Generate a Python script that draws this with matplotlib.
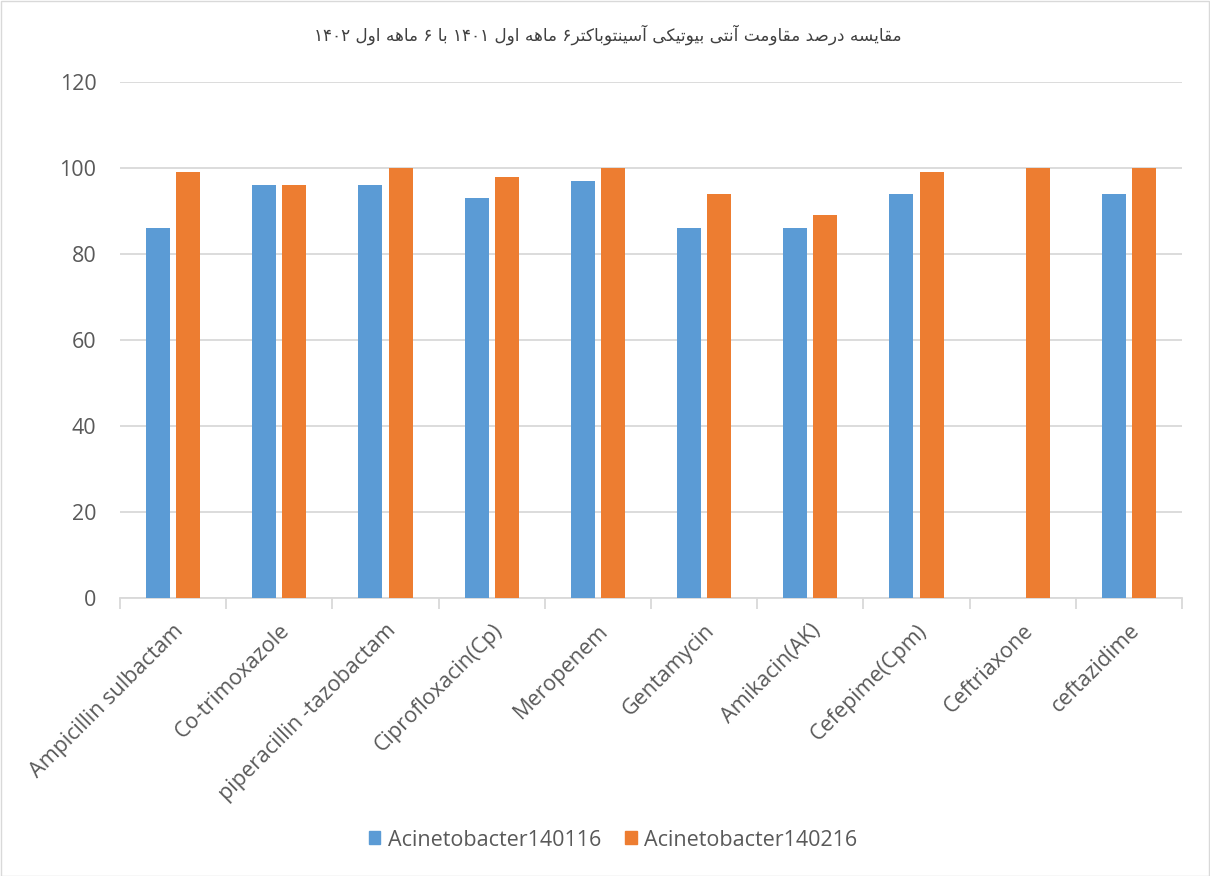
import matplotlib
matplotlib.use("Agg")
import matplotlib.pyplot as plt
import numpy as np
from matplotlib.patches import Rectangle, Patch

categories = ["Ampicillin sulbactam", "Co-trimoxazole", "piperacillin -tazobactam",
              "Ciprofloxacin(Cp)", "Meropenem", "Gentamycin", "Amikacin(AK)",
              "Cefepime(Cpm)", "Ceftriaxone", "ceftazidime"]
series_1401 = [86, 96, 96, 93, 97, 86, 86, 94, 0, 94]
series_1402 = [99, 96, 100, 98, 100, 94, 89, 99, 100, 100]
series_names = ["Acinetobacter140116", "Acinetobacter140216"]
yticks = [0, 20, 40, 60, 80, 100, 120]
title = "مقایسه درصد مقاومت آنتی بیوتیکی آسینتوباکتر۶ ماهه اول ۱۴۰۱ با ۶ ماهه اول ۱۴۰۲"

# ---- minimal Arabic/Persian shaping (presentation forms) ----
DUAL = {
    'ب': (0xFE8F, 0xFE90, 0xFE91, 0xFE92), 'ت': (0xFE95, 0xFE96, 0xFE97, 0xFE98),
    'س': (0xFEB1, 0xFEB2, 0xFEB3, 0xFEB4), 'ص': (0xFEB9, 0xFEBA, 0xFEBB, 0xFEBC),
    'ق': (0xFED5, 0xFED6, 0xFED7, 0xFED8), 'ل': (0xFEDD, 0xFEDE, 0xFEDF, 0xFEE0),
    'م': (0xFEE1, 0xFEE2, 0xFEE3, 0xFEE4), 'ن': (0xFEE5, 0xFEE6, 0xFEE7, 0xFEE8),
    'ه': (0xFEE9, 0xFEEA, 0xFEEB, 0xFEEC), 'ی': (0xFBFC, 0xFBFD, 0xFBFE, 0xFBFF),
    'ک': (0xFB8E, 0xFB8F, 0xFB90, 0xFB91),
}
RIGHT = {
    'ا': (0xFE8D, 0xFE8E), 'آ': (0xFE81, 0xFE82), 'د': (0xFEA9, 0xFEAA),
    'ر': (0xFEAD, 0xFEAE), 'و': (0xFEED, 0xFEEE),
}


def shape(s):
    out = []
    n = len(s)
    for i, c in enumerate(s):
        if c not in DUAL and c not in RIGHT:
            out.append(c)
            continue
        prev = s[i - 1] if i > 0 else None
        nxt = s[i + 1] if i + 1 < n else None
        jp = prev in DUAL
        if c in DUAL:
            jn = nxt in DUAL or nxt in RIGHT
            f = DUAL[c]
            if jp and jn:
                out.append(chr(f[3]))
            elif jp:
                out.append(chr(f[1]))
            elif jn:
                out.append(chr(f[2]))
            else:
                out.append(chr(f[0]))
        else:
            f = RIGHT[c]
            out.append(chr(f[1]) if jp else chr(f[0]))
    return ''.join(out)


def visual(s):
    sh = shape(s)[::-1]
    res, run = [], []
    for ch in sh:
        if '\u06F0' <= ch <= '\u06F9' or ch.isdigit():
            run.append(ch)
        else:
            if run:
                res.extend(run[::-1])
                run = []
            res.append(ch)
    if run:
        res.extend(run[::-1])
    return ''.join(res)


W, H = 1210, 876
fig = plt.figure(figsize=(W / 100, H / 100), dpi=100)
fig.patch.set_facecolor('white')
fig.add_artist(Rectangle((0.5 / W, 0.5 / H), 1 - 1.5 / W, 1 - 1.5 / H, transform=fig.transFigure,
                         fill=False, edgecolor='#d9d9d9', lw=1.0))

ax = fig.add_axes([120 / W, 1 - 598 / H, (1182 - 120) / W, (598 - 82) / H])
x = np.arange(len(categories))
bw = 0.227
off = 0.142
ax.bar(x - off, series_1401, bw, color='#5B9BD5', zorder=3)
ax.bar(x + off, series_1402, bw, color='#ED7D31', zorder=3)

ax.set_xlim(-0.5, len(categories) - 0.5)
ax.set_ylim(0, 120)
ax.set_yticks(yticks)
ax.set_yticklabels([str(v) for v in yticks])
ax.yaxis.grid(True, color='#d9d9d9', lw=1.3, zorder=0)
ax.set_axisbelow(True)
for s in ['left', 'right', 'top']:
    ax.spines[s].set_visible(False)
ax.spines['bottom'].set_color('#d9d9d9')
ax.spines['bottom'].set_linewidth(1.3)
ax.tick_params(axis='y', length=0, pad=17, labelsize=15.5, labelcolor='#595959')
ax.set_xticks(np.arange(-0.5, len(categories), 1.0))
ax.set_xticklabels([])
ax.tick_params(axis='x', which='major', length=8, width=1.3, color='#d9d9d9')
ax.set_xticks(x, minor=True)
ax.set_xticklabels(categories, minor=True, rotation=45, ha='right', rotation_mode='anchor',
                   fontsize=15.5, color='#595959')
ax.tick_params(axis='x', which='minor', length=0, pad=16)
for lab in ax.get_yticklabels() + ax.get_xticklabels(minor=True):
    lab.set_fontfamily('Open Sans')

fig.text(608 / W, 1 - 35 / H, visual(title), ha='center', va='center', fontsize=12.2,
         color='#404040', family=['DejaVu Sans'])

handles = [Patch(color='#5B9BD5'), Patch(color='#ED7D31')]
leg = fig.legend(handles, series_names, loc='center', bbox_to_anchor=(613 / W, 1 - 840 / H), ncol=2,
                 frameon=False, handlelength=0.55, handleheight=0.55, handletextpad=0.35,
                 columnspacing=1.1, prop={'family': 'Open Sans', 'size': 15.5})
for t in leg.get_texts():
    t.set_color('#595959')

fig.savefig('out.png', dpi=100)
